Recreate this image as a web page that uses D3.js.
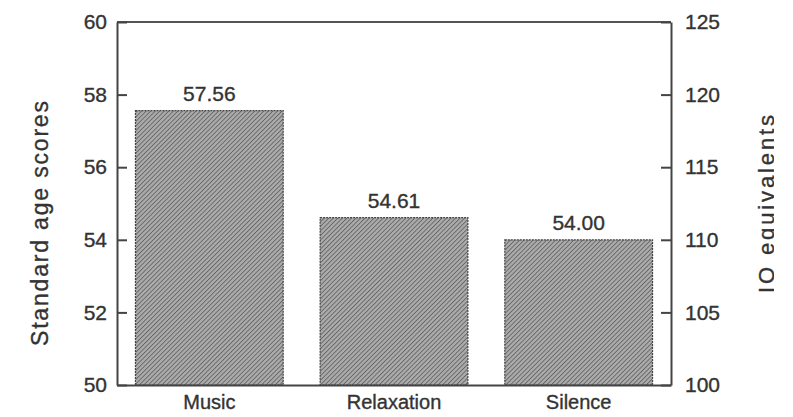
<!DOCTYPE html>
<html>
<head>
<meta charset="utf-8">
<script src="https://cdn.jsdelivr.net/npm/d3@7"></script>
<style>
  body { margin: 0; background: #fff; }
  svg { display: block; }
  text { font-family: "Liberation Sans", Arial, sans-serif; fill: #333; stroke: #333; stroke-width: 0.35px; }
  .axis path, .axis line { stroke: #444; stroke-width: 2; }
  .axis text { font-size: 21px; fill: #333; }
</style>
</head>
<body>
<svg class="chart" width="793" height="417"></svg>
<script>
"use strict";

// data
var conditions = ['Music', 'Relaxation', 'Silence'];
var scores = [57.56, 54.61, 54.00];
var scoreTicks = [50, 52, 54, 56, 58, 60];
var iqTicks = [100, 105, 110, 115, 120, 125];

var margin = {top: 22, right: 122, bottom: 32, left: 117};
var width = 793 - margin.left - margin.right;
var height = 417 - margin.top - margin.bottom;

var svg = d3.select('.chart');

var defs = svg.append('defs');
var pat = defs.append('pattern')
  .attr('id', 'hatch')
  .attr('patternUnits', 'userSpaceOnUse')
  .attr('width', 3.2)
  .attr('height', 3.2)
  .attr('patternTransform', 'rotate(45)');
pat.append('rect').attr('width', 3.2).attr('height', 3.2).attr('fill', '#ababab');
pat.append('line').attr('x1', 0).attr('y1', 0).attr('x2', 0).attr('y2', 3.2)
  .attr('stroke', '#626262').attr('stroke-width', 1.7);

defs.append('clipPath').attr('id', 'cut')
  .append('rect').attr('x', 0).attr('y', 0).attr('width', 774).attr('height', 417);

var g = svg.append('g').attr('transform', 'translate(' + margin.left + ',' + margin.top + ')');

var x = d3.scaleBand().domain(conditions).range([0, width])
  .paddingInner(0.2).paddingOuter(0.1);
var y = d3.scaleLinear().domain([50, 60]).range([height, 0]);
var yIq = d3.scaleLinear().domain([100, 125]).range([height, 0]);

// bars
g.selectAll('.bar')
  .data(scores)
  .enter()
  .append('rect')
    .attr('class', 'bar')
    .attr('x', function (d, i) { return x(conditions[i]); })
    .attr('y', function (d) { return y(d); })
    .attr('width', x.bandwidth())
    .attr('height', function (d) { return height - y(d); })
    .attr('fill', 'url(#hatch)')
    .attr('stroke', '#444')
    .attr('stroke-width', 1.2)
    .attr('stroke-dasharray', '2,1');

// value labels
g.selectAll('.label')
  .data(scores)
  .enter()
  .append('text')
    .attr('class', 'label')
    .attr('x', function (d, i) { return x(conditions[i]) + x.bandwidth() / 2; })
    .attr('y', function (d) { return y(d) - 10; })
    .attr('text-anchor', 'middle')
    .style('font-size', '21px')
    .text(function (d) { return d.toFixed(2); });

// frame top
g.append('line')
  .attr('x1', 0).attr('x2', width).attr('y1', 0).attr('y2', 0)
  .attr('stroke', '#555').attr('stroke-width', 2);

g.append('g').attr('class', 'axis')
  .call(d3.axisLeft(y).tickValues(scoreTicks).tickSizeInner(-10).tickSizeOuter(0).tickPadding(10));

g.append('g').attr('class', 'axis')
  .attr('transform', 'translate(' + width + ',0)')
  .call(d3.axisRight(yIq).tickValues(iqTicks).tickSizeInner(-10).tickSizeOuter(0).tickPadding(14));

var xa = g.append('g').attr('class', 'axis')
  .attr('transform', 'translate(0,' + height + ')')
  .call(d3.axisBottom(x).tickSize(0).tickPadding(10));
xa.selectAll('text').style('font-size', '20px');

// axis titles
svg.append('text')
  .attr('transform', 'translate(48,' + (margin.top + height / 2 + 20) + ') rotate(-90)')
  .attr('text-anchor', 'middle')
  .attr('textLength', 245)
  .attr('lengthAdjust', 'spacing')
  .style('font-size', '23px')
  .text('Standard age scores');

svg.append('g').attr('clip-path', 'url(#cut)')
  .append('text')
  .attr('transform', 'translate(774,' + 204 + ') rotate(-90)')
  .attr('text-anchor', 'middle')
  .attr('textLength', 178)
  .attr('lengthAdjust', 'spacing')
  .style('font-size', '22px')
  .text('IQ equivalents');
</script>
</body>
</html>
